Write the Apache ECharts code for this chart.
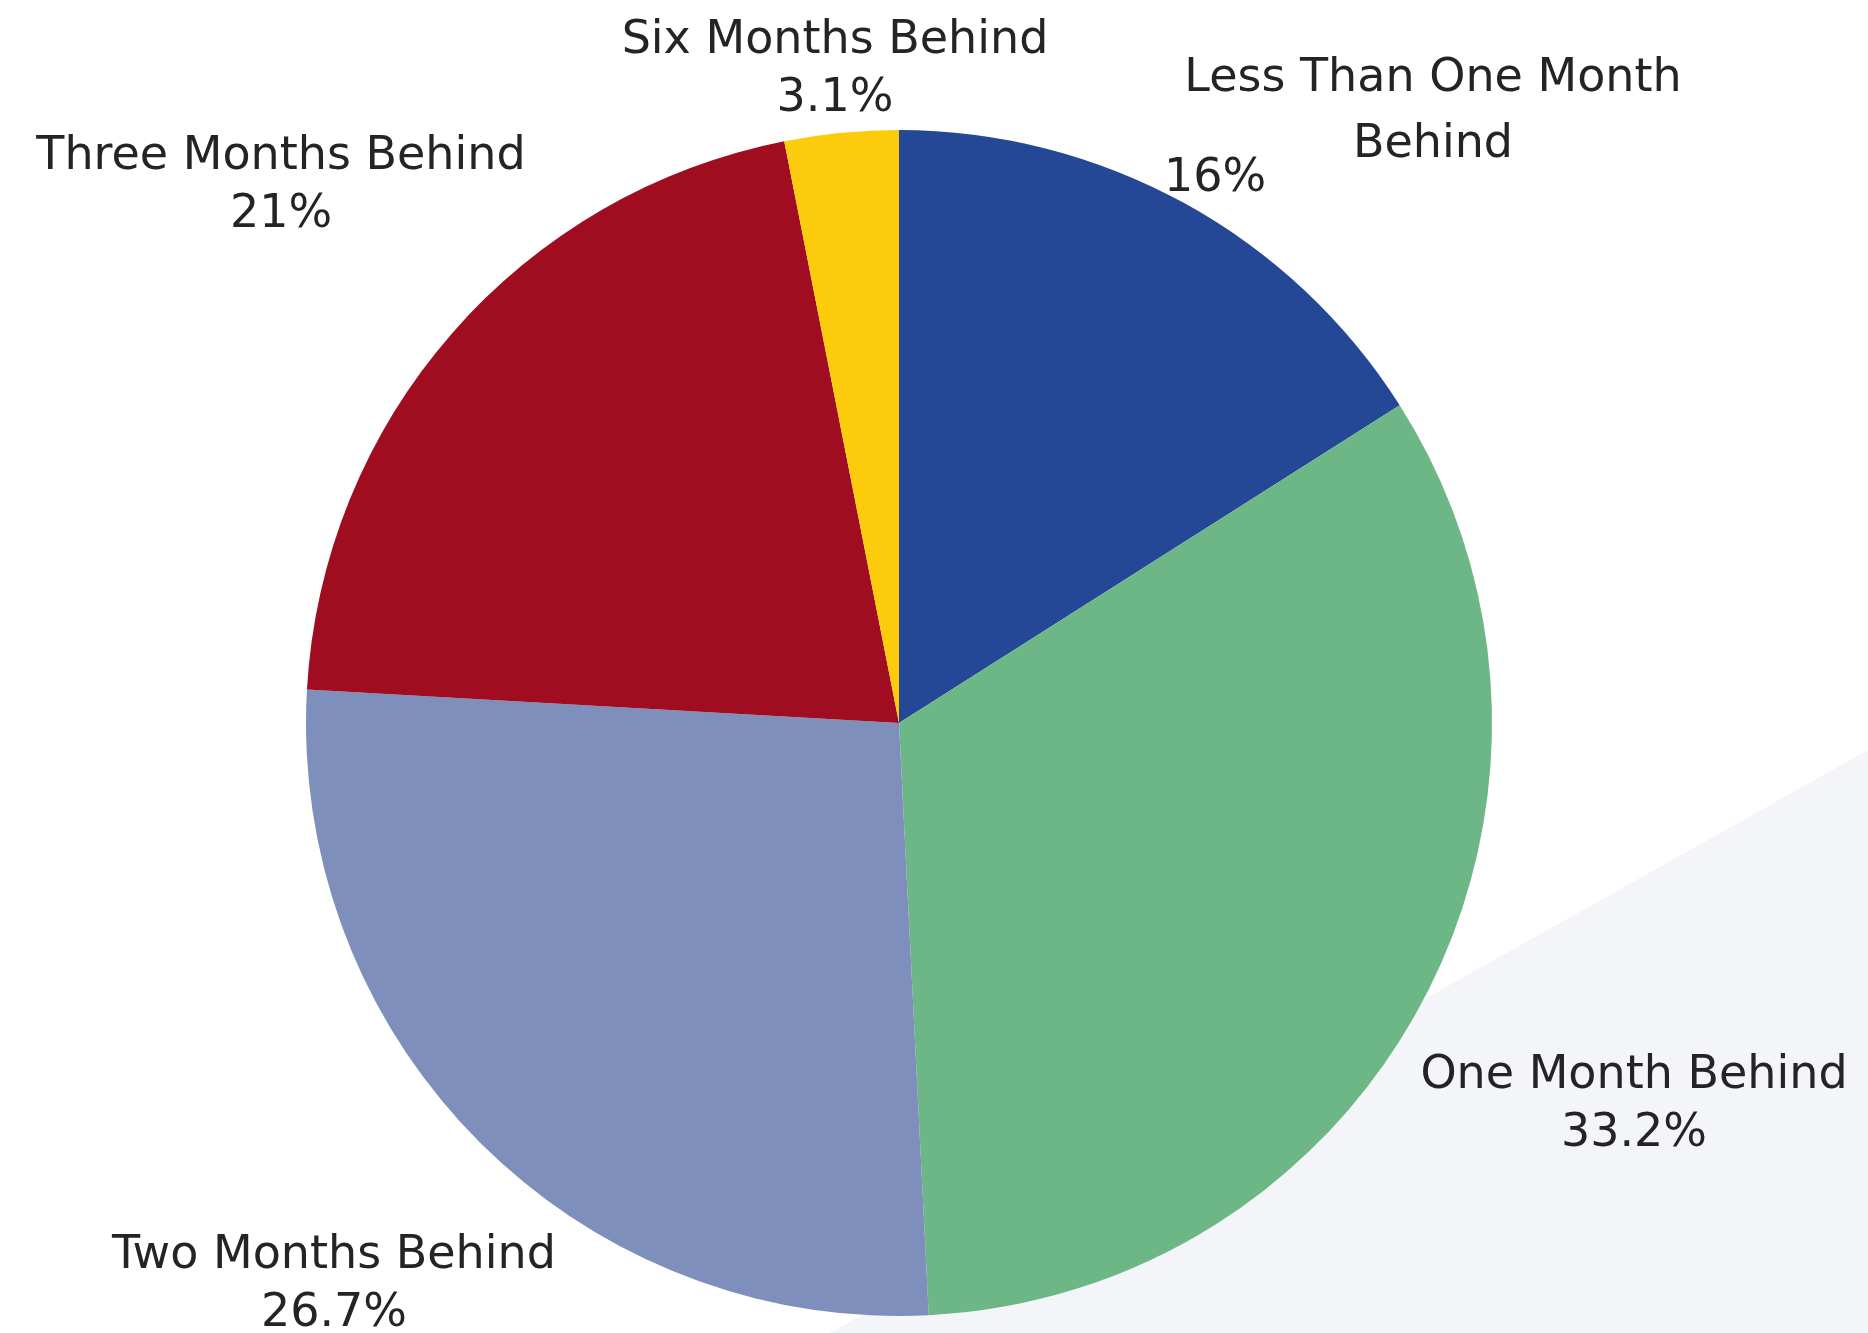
<!DOCTYPE html>
<html>
<head>
<meta charset="utf-8">
<title>Delinquency pie</title>
<script src="https://cdn.jsdelivr.net/npm/echarts@6/dist/echarts.min.js"></script>
<style>
    html, body { margin: 0; padding: 0; background: #fff; }
    #main { width: 1868px; height: 1333px; }
</style>
</head>
<body>
<div id="main"></div>
<script>
    // data
    var categories = ['Less Than One Month\nBehind', 'One Month Behind', 'Two Months Behind', 'Three Months Behind', 'Six Months Behind'];
    var shares = [16, 33.2, 26.7, 21, 3.1];
    var colors = ['#244896', '#6db686', '#7f8fbb', '#a00d20', '#fccb0c'];

    // where each label sits (center of the text block)
    var labelPos = [[1433, 112], [1634, 1105], [334, 1285], [281, 186], [835, 70]];

    var pieData = categories.map(function (name, i) {
        var d = { name: name, value: shares[i], itemStyle: { color: colors[i] } };
        if (i === 0) {
            d.label = { formatter: '{b}', lineHeight: 66 };
        }
        return d;
    });

    var myChart = echarts.init(document.getElementById('main'));
    var option = {
        backgroundColor: '#fff',
        animation: false,
        graphic: [
            {
                type: 'polygon',
                z: 0,
                shape: { points: [[1868, 750], [1868, 1333], [830, 1333]] },
                style: { fill: '#f4f5f9' }
            },
            {
                // percent of the first slice is printed apart from its name
                type: 'text',
                z: 100,
                x: 1215,
                y: 179,
                style: {
                    text: shares[0] + '%',
                    font: '46px "DejaVu Sans"',
                    fill: '#242424',
                    align: 'center',
                    verticalAlign: 'middle'
                }
            }
        ],
        series: [
            {
                name: 'Share',
                type: 'pie',
                center: [899, 723],
                radius: 593,
                startAngle: 90,
                clockwise: true,
                z: 2,
                itemStyle: { borderWidth: 0 },
                label: {
                    show: true,
                    position: 'outside',
                    formatter: '{b}\n{c}%',
                    fontFamily: 'DejaVu Sans',
                    fontSize: 46,
                    lineHeight: 58,
                    color: '#242424',
                    align: 'center',
                    overflow: 'none'
                },
                labelLine: { show: false },
                labelLayout: function (params) {
                    var p = labelPos[params.dataIndex];
                    return { x: p[0], y: p[1], align: 'center', verticalAlign: 'middle', hideOverlap: false };
                },
                emphasis: { disabled: true },
                data: pieData
            }
        ]
    };
    myChart.setOption(option);
</script>
</body>
</html>
